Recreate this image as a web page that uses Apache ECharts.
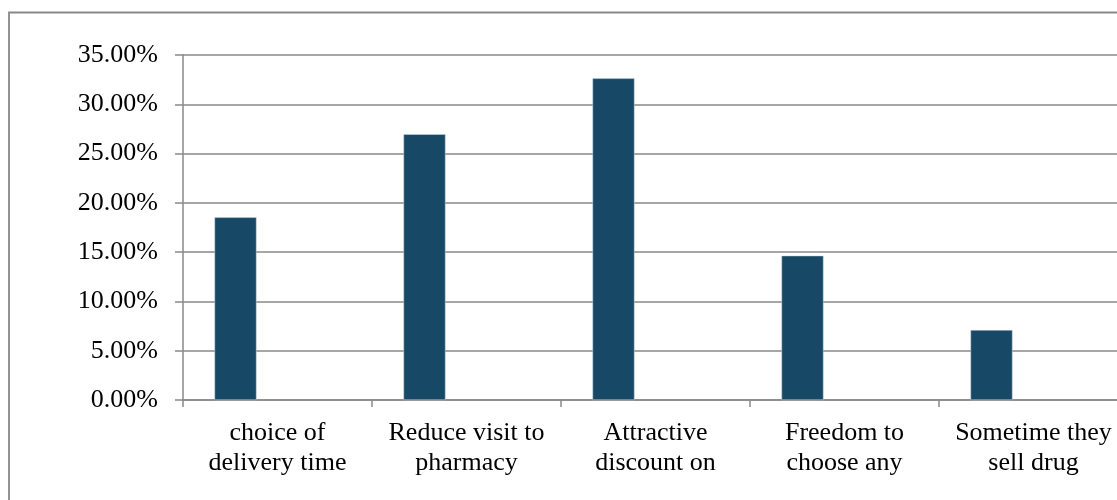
<!DOCTYPE html>
<html>
<head>
<meta charset="utf-8">
<script src="https://cdn.jsdelivr.net/npm/echarts@6/dist/echarts.min.js"></script>
<style>
html,body{margin:0;padding:0;background:#fff;}
#chart{width:1117px;height:500px;}
</style>
</head>
<body>
<div id="chart"></div>
<script>
var categories = ['choice of\ndelivery time', 'Reduce visit to\npharmacy', 'Attractive\ndiscount on', 'Freedom to\nchoose any', 'Sometime they\nsell drug'];
var shares = [18.53, 26.96, 32.63, 14.64, 7.10];
var emptySeries = [null, null, null, null, null];
var yTicks = [0, 5, 10, 15, 20, 25, 30, 35];

var chart = echarts.init(document.getElementById('chart'));
var font = '"Liberation Serif", "DejaVu Serif", serif';
chart.setOption({
  animation: false,
  backgroundColor: '#ffffff',
  graphic: [{
    type: 'rect',
    shape: {x: 9, y: 12.5, width: 1300, height: 700},
    style: {fill: 'none', stroke: '#898989', lineWidth: 1.8},
    silent: true
  }],
  grid: {left: 183, top: 55, width: 945, height: 345, containLabel: false, outerBoundsMode: 'none'},
  xAxis: {
    type: 'category',
    data: categories,
    boundaryGap: true,
    axisLine: {show: true, lineStyle: {color: '#898989', width: 1.5}},
    axisTick: {show: true, length: 7, alignWithLabel: false, lineStyle: {color: '#898989', width: 1.5}},
    axisLabel: {
      interval: 0,
      color: '#000',
      fontFamily: font,
      fontSize: 26,
      lineHeight: 30,
      margin: 18
    },
    splitLine: {show: false}
  },
  yAxis: {
    type: 'value',
    min: yTicks[0],
    max: yTicks[yTicks.length - 1],
    interval: 5,
    axisLine: {show: true, lineStyle: {color: '#898989', width: 1.5}},
    axisTick: {show: true, length: 8, lineStyle: {color: '#898989', width: 1.5}},
    axisLabel: {
      color: '#000',
      fontFamily: font,
      fontSize: 26,
      margin: 25,
      formatter: function (v) { return v.toFixed(2) + '%'; }
    },
    splitLine: {show: true, lineStyle: {color: '#898989', width: 1.5}}
  },
  series: [{
    type: 'bar',
    data: shares,
    barWidth: 42,
    barGap: '100%',
    itemStyle: {color: '#174866', borderColor: '#cfd9e0', borderWidth: 0.5}
  }, {
    type: 'bar',
    data: emptySeries,
    barWidth: 42,
    barGap: '100%'
  }]
});
</script>
</body>
</html>
